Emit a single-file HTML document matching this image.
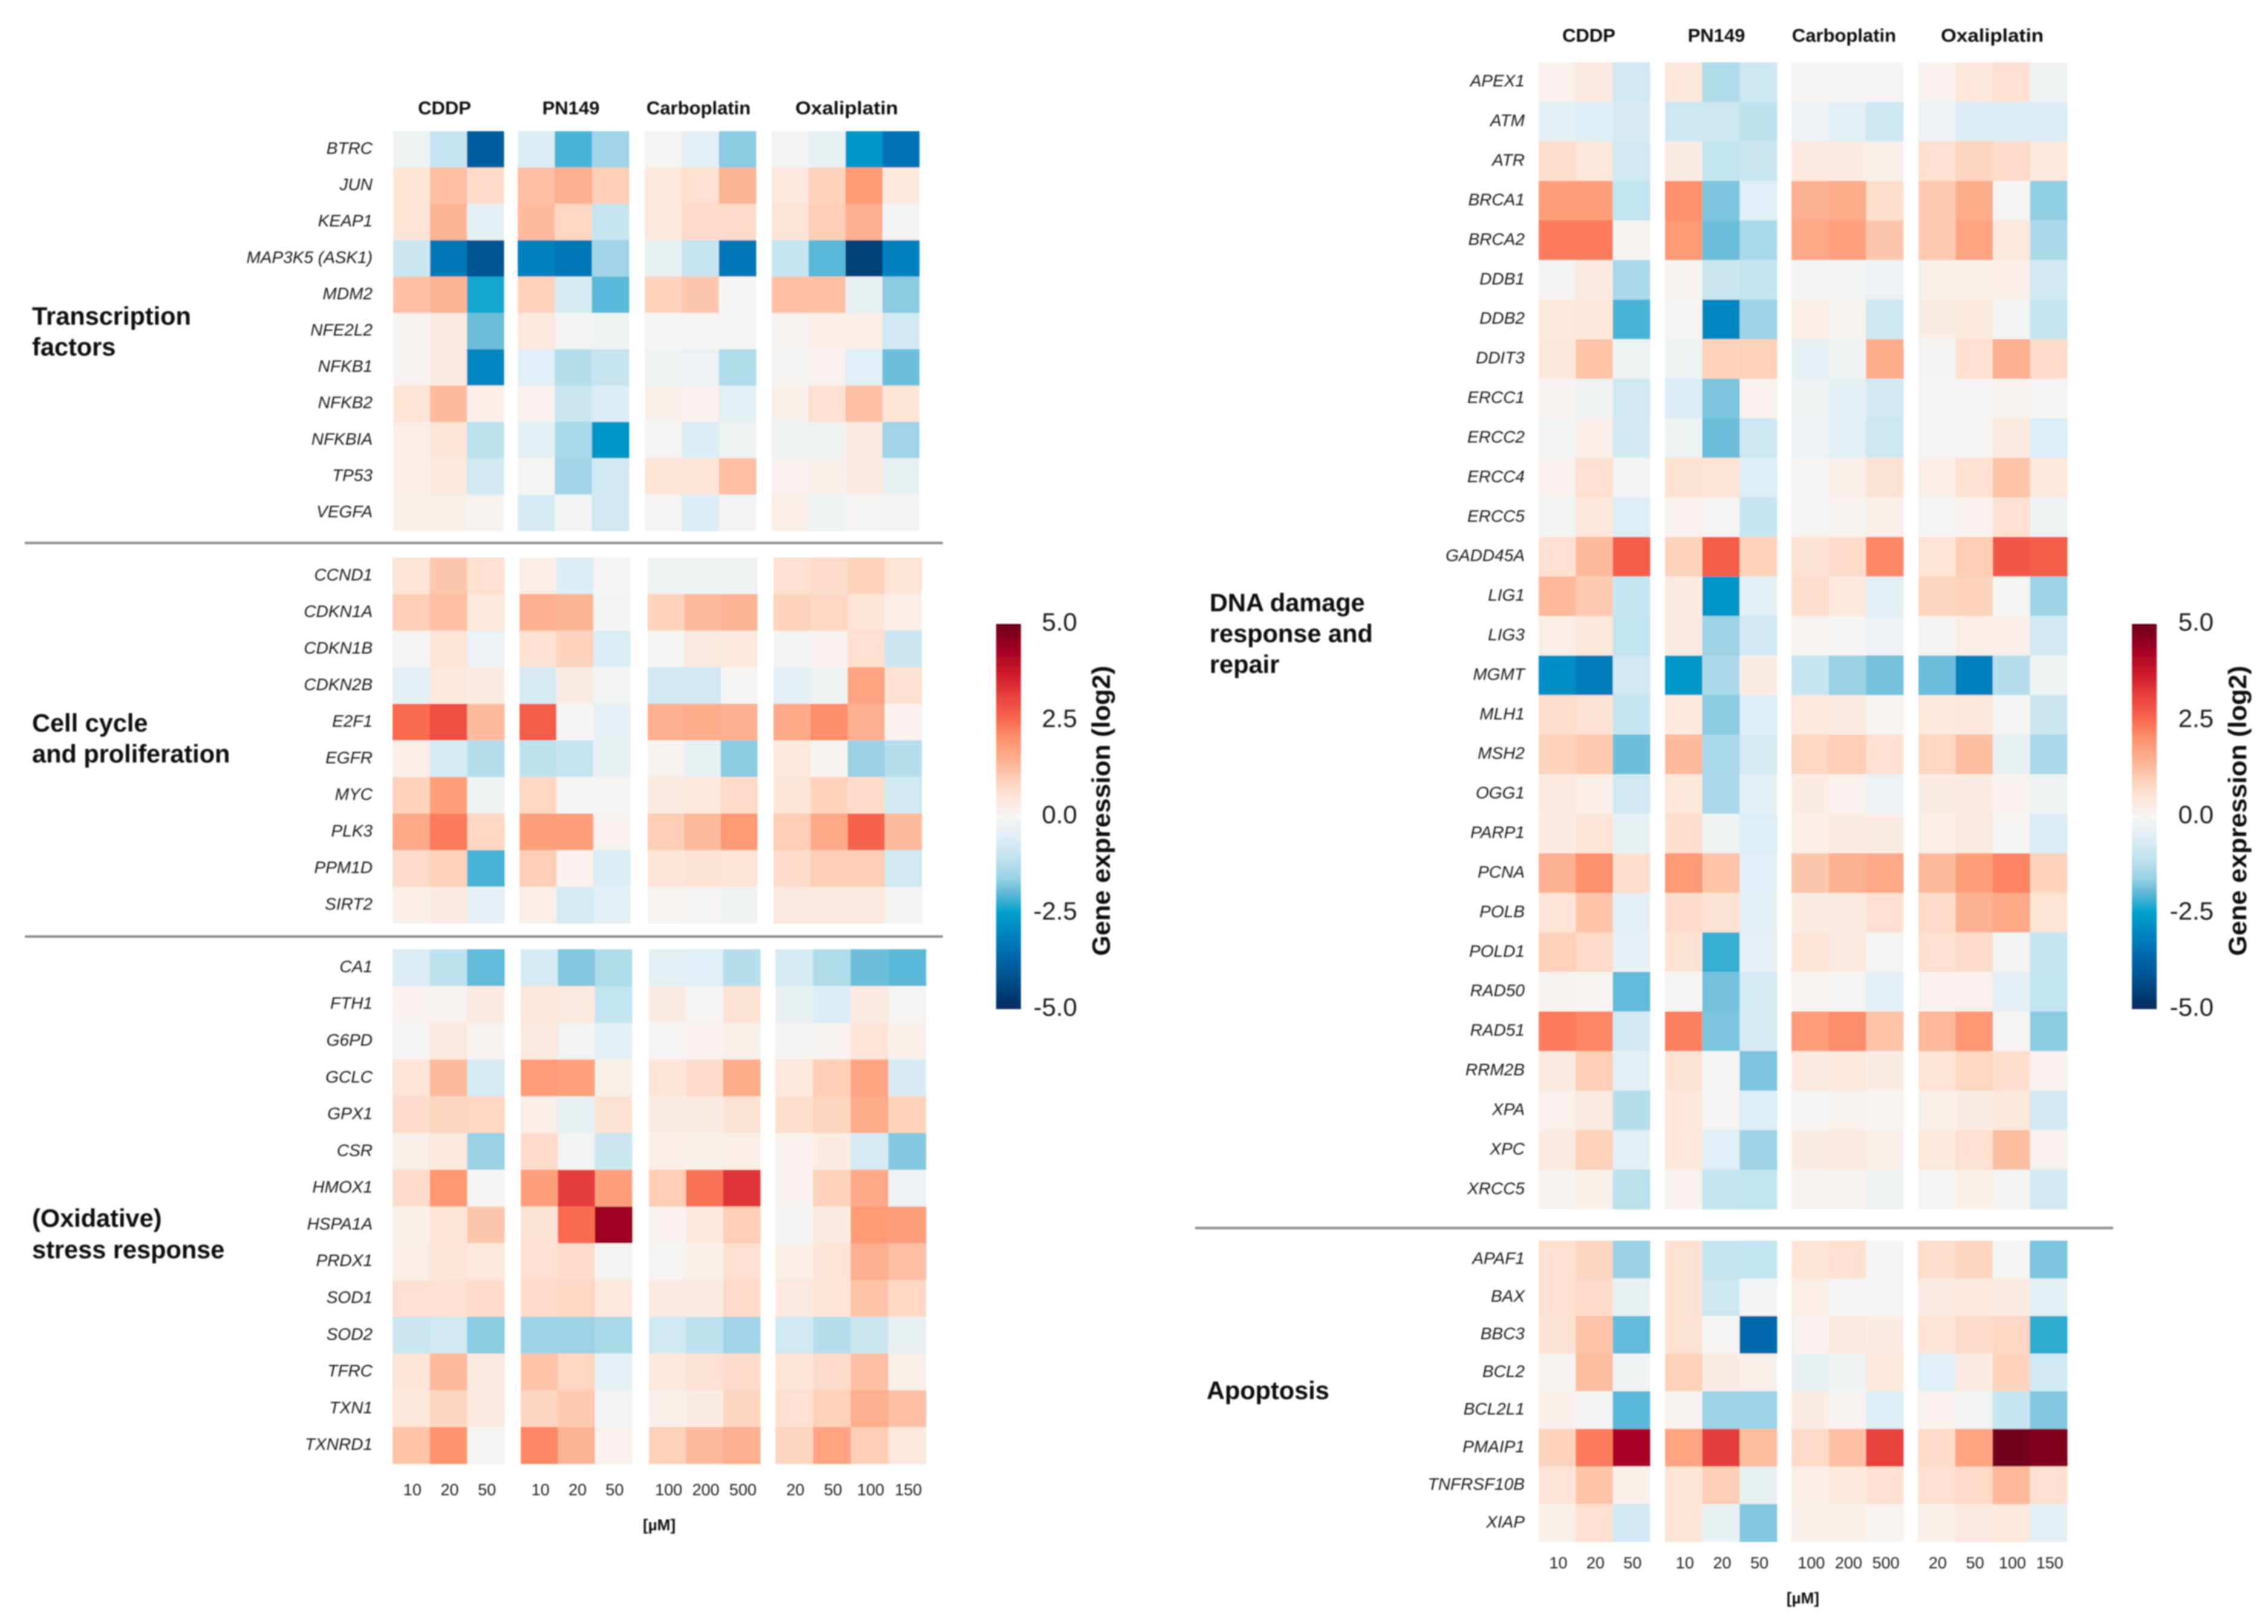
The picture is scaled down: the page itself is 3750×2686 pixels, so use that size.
<!DOCTYPE html>
<html lang="en">
<head>
<meta charset="utf-8">
<title>Gene expression heatmaps</title>
<style>
html,body{margin:0;padding:0;background:#fff;width:3750px;height:2686px;overflow:hidden}
svg{display:block;font-family:"Liberation Sans",sans-serif}
</style>
</head>
<body>
<svg id="figure" width="3750" height="2686" viewBox="0 0 3750 2686" xmlns="http://www.w3.org/2000/svg">
<defs>
<linearGradient id="cbar" x1="0" y1="0" x2="0" y2="1"></linearGradient>
<filter id="soft" x="0" y="0" width="100%" height="100%" filterUnits="userSpaceOnUse" primitiveUnits="userSpaceOnUse"><feGaussianBlur stdDeviation="1.1"/></filter>
</defs>
<rect width="3750" height="2686" fill="#fff"/>
<g id="root" filter="url(#soft)">
<g font-weight="bold" font-size="41.5" fill="#0a0a0a">
<text x="53" y="537">Transcription</text>
<text x="53" y="588">factors</text>
<text x="53" y="1210">Cell cycle</text>
<text x="53" y="1261">and proliferation</text>
<text x="53" y="2029">(Oxidative)</text>
<text x="53" y="2081">stress response</text>
<text x="2000" y="1011">DNA damage</text>
<text x="2000" y="1062">response and</text>
<text x="2000" y="1113">repair</text>
<text x="1995" y="2314">Apoptosis</text>
</g>
<rect x="41" y="896" width="1518" height="4" fill="#8a8a8a"/>
<rect x="41" y="1547" width="1518" height="4" fill="#8a8a8a"/>
<rect x="1976" y="2029" width="1518" height="4" fill="#8a8a8a"/>
<g fill="#111" font-weight="bold" font-size="31" text-anchor="middle">
<text x="735" y="189">CDDP</text>
<text x="944" y="189">PN149</text>
<text x="1155" y="189">Carboplatin</text>
<text x="1400" y="189" textLength="170" lengthAdjust="spacingAndGlyphs">Oxaliplatin</text>
<text x="2627" y="69">CDDP</text>
<text x="2838" y="69">PN149</text>
<text x="3049" y="69">Carboplatin</text>
<text x="3294" y="69" textLength="170" lengthAdjust="spacingAndGlyphs">Oxaliplatin</text>
<text x="1090" y="2531" font-size="26">[µM]</text>
<text x="2981" y="2652" font-size="26">[µM]</text>
</g>
<g id="heatmaps"></g>
<g id="legends"></g>
</g>
</svg>
<script>
// ---------- dose categories ----------
const cddpDoses = [10, 20, 50];
const pn149Doses = [10, 20, 50];
const carboplatinDoses = [100, 200, 500];
const oxaliplatinDoses = [20, 50, 100, 150];
const drugNames = ['cddp', 'pn149', 'carboplatin', 'oxaliplatin'];

// ---------- legend ----------
const legendTicks = [5, 2.5, 0, -2.5, -5];
const legendTickLabels = ['5.0', '2.5', '0.0', '-2.5', '-5.0'];
const colorValues = [5, 4.3, 3.7, 3.1, 2.5, 2, 1.4, 0.9, 0.45, 0, -0.5, -1.05, -1.6, -2, -2.5, -3, -3.55, -4.1, -4.6, -5];
const colorHexes = ['#6b0019', '#a50024', '#cf1a2c', '#e9433f', '#f96a50', '#fe9470', '#fdb495', '#fdd3bd', '#fde6da', '#f6f4f2', '#e0eef5', '#c2e3f0', '#9ad1e5', '#5cb8d8', '#00a0cc', '#0086c0', '#006bae', '#005594', '#003f78', '#0a2a5c'];

// ---------- transcription factors ----------
const tfGenes = ['BTRC', 'JUN', 'KEAP1', 'MAP3K5 (ASK1)', 'MDM2', 'NFE2L2', 'NFKB1', 'NFKB2', 'NFKBIA', 'TP53', 'VEGFA'];
const tfValues = [
[-.2,-1,-3.9,-.6,-2.1,-1.5,0,-.4,-1.7,-.1,-.3,-2.7,-3.4],
[.5,1.2,.7,1.2,1.5,1,.4,.6,1.4,.4,.9,1.9,.4],
[.5,1.4,-.4,1.3,.8,-1,.4,.7,.7,.5,1,1.5,-.1],
[-.9,-3.3,-4.1,-3.1,-3.3,-1.5,-.3,-1,-3.3,-1,-2,-4.6,-3.1],
[1.2,1.4,-2.4,.9,-.7,-2,.9,1.1,0,1.2,1.2,-.3,-1.7],
[.05,.3,-1.9,.4,-.1,-.2,0,0,0,.05,.2,.2,-.8],
[.05,.3,-3,-.5,-1.2,-1,-.15,-.25,-1.3,-.05,.1,-.5,-1.9],
[.5,1.3,.2,.1,-.9,-.6,.15,.1,-.4,.15,.6,1.2,.5],
[.2,.5,-1.1,-.4,-1.4,-2.7,0,-.6,-.2,-.15,-.15,.3,-1.5],
[.2,.4,-.8,0,-1.5,-.8,.5,.5,1.2,.1,.15,.3,-.3],
[.15,.15,.05,-.7,-.1,-.8,0,-.6,-.1,.2,-.2,0,-.05]
];

// ---------- cell cycle ----------
const cycleGenes = ['CCND1', 'CDKN1A', 'CDKN1B', 'CDKN2B', 'E2F1', 'EGFR', 'MYC', 'PLK3', 'PPM1D', 'SIRT2'];
const cycleValues = [
[.5,1.1,.6,.2,-.6,0,-.15,-.15,-.15,.6,.7,.9,.5],
[1,1.2,.4,1.5,1.4,-.1,.9,1.3,1.4,.9,.8,.5,.2],
[0,.5,-.25,.6,.9,-.6,0,.35,.4,-.1,.1,.6,-.9],
[-.4,.4,.3,-.7,.25,-.1,-.8,-.8,0,-.4,-.15,1.7,.6],
[2.5,2.9,1.3,2.7,0,-.35,1.5,1.55,1.5,1.6,2.1,1.5,.1],
[.2,-.7,-1.2,-1.1,-1,-.3,.05,-.3,-1.7,.4,.05,-1.6,-1.2],
[.9,1.8,-.2,.8,0,0,.35,.4,.75,.5,.9,.7,-.8],
[1.6,2.3,.8,1.8,1.8,.1,1,1.3,1.9,1,1.6,2.6,1.3],
[.7,.95,-2.1,1,.1,-.6,.5,.55,.5,.7,1,1,-.8],
[.2,.3,-.35,.2,-.7,-.45,.03,0,-.15,.35,.35,.35,-.1]
];

// ---------- oxidative stress ----------
const stressGenes = ['CA1', 'FTH1', 'G6PD', 'GCLC', 'GPX1', 'CSR', 'HMOX1', 'HSPA1A', 'PRDX1', 'SOD1', 'SOD2', 'TFRC', 'TXN1', 'TXNRD1'];
const stressValues = [
[-.6,-1.1,-1.95,-.7,-1.75,-1.3,-.4,-.5,-1.2,-.7,-1.3,-1.9,-2],
[.1,.08,.3,.45,.35,-1.05,.25,0,.55,-.3,-.6,.3,0],
[0,.35,.05,.35,-.1,-.45,0,.1,.15,-.05,.05,.5,.15],
[.5,1.3,-.7,1.85,1.75,.15,.5,.7,1.55,.4,1,1.7,-.65],
[.7,.85,.8,.2,-.3,.55,.25,.25,.55,.65,.85,1.55,.9],
[.15,.4,-1.6,.7,-.1,-.9,.2,.15,.2,.1,.3,-.7,-1.75],
[.7,1.95,0,1.8,3.2,1.8,1,2.4,3.3,.1,.9,1.6,-.25],
[.15,.5,1.1,.55,2.5,4.4,.1,.4,1,-.05,.3,1.9,1.8],
[.2,.5,.4,.6,.7,-.05,0,.15,.6,.2,.5,1.5,1.2],
[.6,.6,.7,.75,.8,.4,.35,.3,.75,.35,.5,1.15,.8],
[-.9,-.8,-1.7,-1.55,-1.55,-1.4,-.8,-1.1,-1.5,-.8,-1.2,-.9,-.3],
[.5,1.3,.35,1.15,.8,-.35,.4,.55,.7,.5,.7,1.2,.15],
[.45,.85,.35,.85,1.05,-.1,.15,.25,.85,.6,.95,1.5,1.2],
[1.15,2,0,2.15,1.4,.1,.95,1.3,1.5,.85,1.7,1,.4]
];

// ---------- DNA damage response and repair ----------
const dnaGenes = ['APEX1', 'ATM', 'ATR', 'BRCA1', 'BRCA2', 'DDB1', 'DDB2', 'DDIT3', 'ERCC1', 'ERCC2', 'ERCC4', 'ERCC5', 'GADD45A', 'LIG1', 'LIG3', 'MGMT', 'MLH1', 'MSH2', 'OGG1', 'PARP1', 'PCNA', 'POLB', 'POLD1', 'RAD50', 'RAD51', 'RRM2B', 'XPA', 'XPC', 'XRCC5'];
const dnaValues = [
[.1,.35,-.8,.45,-1.3,-.85,0,0,0,.1,.45,.6,-.15],
[-.4,-.55,-.65,-.85,-.85,-1.1,-.25,-.45,-.85,-.25,-.6,-.6,-.6],
[.65,.45,-.8,.25,-1.05,-.9,.35,.3,.15,.6,.85,.7,.4],
[1.8,1.8,-1.05,2.05,-1.8,-.5,1.45,1.55,.65,1.05,1.55,0,-1.65],
[2.3,2.3,.05,1.9,-1.9,-1.4,1.6,1.75,1.1,1.05,1.7,.4,-1.35],
[-.05,.35,-1.35,.05,-.9,-1,-.05,-.1,-.25,.15,.15,.2,-.8],
[.4,.45,-2.1,-.02,-3,-1.55,.2,.08,-.85,.25,.4,-.1,-1],
[.45,1.15,-.2,-.2,.9,.95,-.35,-.15,1.55,-.05,.6,1.5,.7],
[.05,-.15,-.8,-.6,-1.8,.1,-.2,-.4,-.8,0,0,.05,-.02],
[-.1,.2,-.75,-.15,-1.9,-.85,-.25,-.4,-.85,0,0,.35,-.55],
[.1,.6,-.1,.55,.5,-.55,0,.15,.55,.2,.55,1.15,.4],
[-.1,.45,-.55,.1,0,-.95,-.03,.08,.15,-.03,.1,.6,-.2],
[.6,1.3,2.7,.9,2.7,.9,.55,.7,2.15,.5,1,2.8,2.7],
[1.35,1.05,-.95,.3,-2.7,-.45,.65,.4,-.4,.85,.9,-.03,-1.55],
[.2,.45,-1.05,.3,-1.55,-.8,.02,-.03,-.25,-.05,.2,.2,-.75],
[-2.85,-3.2,-.8,-2.65,-1.35,.25,-.95,-1.6,-1.85,-1.9,-3.1,-1.2,-.2],
[.65,.55,-1,.4,-1.7,-.55,.4,.3,.02,.4,.45,-.03,-.9],
[.9,1.05,-1.9,1.3,-1.4,-.7,.8,1,.6,.8,1.25,-.3,-1.35],
[.35,.2,-.8,.45,-1.35,-.4,.25,.1,-.25,.25,.3,.1,-.15],
[.3,.5,-.3,.65,-.2,-.55,.2,.3,.25,.2,.35,-.02,-.6],
[1.45,2.05,.65,1.9,1.15,-.5,1.1,1.45,1.6,1.3,1.8,2.2,.9],
[.5,1.15,-.4,.7,.55,-.4,.3,.35,.6,.75,1.45,1.6,.5],
[.95,.75,-.35,.55,-2.2,-.35,.5,.35,-.03,.6,.7,-.08,-.95],
[.05,.03,-1.95,-.02,-1.85,-.7,.02,-.02,-.45,.12,.12,-.4,-1.05],
[2.3,2.15,-.75,2.25,-1.8,-.7,1.85,2.1,1.15,1.35,1.95,-.03,-1.7],
[.35,1,-.45,.55,-.02,-1.8,.35,.4,.25,.5,.8,.65,.12],
[.1,.35,-1.2,.45,-.02,-.55,-.03,.08,.03,.15,.25,.45,-.75],
[.35,.95,-.45,.45,-.5,-1.55,.25,.35,.15,.4,.6,1.25,.12],
[.08,.15,-1.15,.1,-1,-1.05,.05,.05,-.2,0,.15,-.05,-.8]
];

// ---------- apoptosis ----------
const apoptosisGenes = ['APAF1', 'BAX', 'BBC3', 'BCL2', 'BCL2L1', 'PMAIP1', 'TNFRSF10B', 'XIAP'];
const apoptosisValues = [
[.6,.85,-1.6,.55,-1,-1.05,.5,.6,0,.65,.85,-.03,-1.8],
[.6,.7,-.3,.55,-.85,-.1,.2,0,-.03,.3,.4,.3,-.4],
[.55,1.15,-1.95,.55,-.03,-3.6,.12,.35,.3,.5,.7,.8,-2.25],
[.05,1.25,-.15,.95,.25,.15,-.3,-.2,.4,-.5,.3,.9,-.8],
[.15,-.1,-2,.05,-1.55,-1.55,.25,.05,-.55,.12,-.1,-.95,-1.75],
[.9,2.3,4.25,1.7,3.2,1.25,.75,1.2,3.15,.7,1.7,4.9,4.75],
[.5,1.15,.15,.5,1,-.3,.2,.4,.6,.6,.75,1.35,.6],
[.15,.6,-.75,.5,-.3,-1.75,.15,.15,.02,.15,.35,.4,-.4]
];

// ---------- layout (separate from the data) ----------
const doseGroups = [cddpDoses, pn149Doses, carboplatinDoses, oxaliplatinDoses];
const heatmapLayouts = [
  {id:'transcription-factors', genes:tfGenes, values:tfValues, spans:[[650,833],[856,1040],[1066,1250],[1276,1520]], top:217, bottom:878, labelRight:616, tickBaseline:null},
  {id:'cell-cycle', genes:cycleGenes, values:cycleValues, spans:[[649,834],[859,1042],[1071,1252],[1279,1524]], top:922, bottom:1527, labelRight:616, tickBaseline:null},
  {id:'oxidative-stress', genes:stressGenes, values:stressValues, spans:[[649,834],[861,1045],[1073,1257],[1282,1531]], top:1570, bottom:2421, labelRight:616, tickBaseline:2473},
  {id:'dna-damage', genes:dnaGenes, values:dnaValues, spans:[[2544,2728],[2753,2938],[2962,3147],[3172,3418]], top:103, bottom:2000, labelRight:2521, tickBaseline:null},
  {id:'apoptosis', genes:apoptosisGenes, values:apoptosisValues, spans:[[2544,2728],[2753,2938],[2962,3147],[3171,3418]], top:2052, bottom:2550, labelRight:2521, tickBaseline:2594}
];
const legendLayouts = [
  {id:'left', barX:1647, barW:41, top:1032, bottom:1669, labelRight:1781, titleX:1835},
  {id:'right', barX:3525, barW:41, top:1032, bottom:1669, labelRight:3660, titleX:3714}
];

const NS = 'http://www.w3.org/2000/svg';
function mk(tag, attrs, parent) {
  const el = document.createElementNS(NS, tag);
  for (const k in attrs) el.setAttribute(k, attrs[k]);
  parent.appendChild(el);
  return el;
}
function hexRgb(h) {
  return [parseInt(h.slice(1,3),16), parseInt(h.slice(3,5),16), parseInt(h.slice(5,7),16)];
}
function colorScale(v) {
  const c = Math.max(-5, Math.min(5, v));
  for (let i = 0; i < colorValues.length - 1; i++) {
    if (c <= colorValues[i] && c >= colorValues[i+1]) {
      const t = (colorValues[i] - c) / (colorValues[i] - colorValues[i+1]);
      const a = hexRgb(colorHexes[i]), b = hexRgb(colorHexes[i+1]);
      return 'rgb(' + a.map((x, j) => Math.round(x + (b[j] - x) * t)).join(',') + ')';
    }
  }
  return colorHexes[colorHexes.length - 1];
}
function xScale(span, n, col) {
  return span[0] + (span[1] - span[0]) * col / n;
}
function yScale(top, bottom, n, row) {
  return top + (bottom - top) * row / n;
}
function slug(s) {
  return s.toLowerCase().replace(/[^a-z0-9]+/g, '-').replace(/-$/, '');
}

const heatRoot = document.getElementById('heatmaps');
heatmapLayouts.forEach(function (h) {
  const g = mk('g', {}, heatRoot);
  
  
  const nRows = h.genes.length;
  h.genes.forEach(function (gene, r) {
    const y0 = yScale(h.top, h.bottom, nRows, r);
    const y1 = yScale(h.top, h.bottom, nRows, r + 1);
    const label = mk('text', {x: h.labelRight, y: (y0 + y1) / 2 + 7.5, 'text-anchor': 'end', 'font-style': 'italic', 'font-size': 28, fill: '#1a1a1a'}, g);
    label.textContent = gene;
    
    
    let idx = 0;
    doseGroups.forEach(function (doses, d) {
      doses.forEach(function (dose, c) {
        const x0 = xScale(h.spans[d], doses.length, c);
        const x1 = xScale(h.spans[d], doses.length, c + 1);
        const cell = mk('rect', {x: x0, y: y0, width: x1 - x0 + 0.4, height: y1 - y0 + 0.4, fill: colorScale(h.values[r][idx])}, g);
        
        
        idx++;
      });
    });
  });
  if (h.tickBaseline !== null) {
    doseGroups.forEach(function (doses, d) {
      doses.forEach(function (dose, c) {
        const cx = (xScale(h.spans[d], doses.length, c) + xScale(h.spans[d], doses.length, c + 1)) / 2;
        const tick = mk('text', {x: cx + 2, y: h.tickBaseline, 'text-anchor': 'middle', 'font-size': 27, fill: '#222'}, g);
        tick.textContent = String(dose);
        
        
      });
    });
  }
});

// colorbar gradient built from the colour scale
const grad = document.getElementById('cbar');
colorValues.forEach(function (v, i) {
  mk('stop', {offset: (5 - v) / 10, 'stop-color': colorHexes[i]}, grad);
});

const legendRoot = document.getElementById('legends');
legendLayouts.forEach(function (l) {
  const g = mk('g', {}, legendRoot);
  
  
  const legendY = function (v) { return l.top + (l.bottom - l.top) * (5 - v) / 10; };
  const bar = mk('rect', {x: l.barX, y: l.top, width: l.barW, height: l.bottom - l.top, fill: 'url(#cbar)'}, g);
  
  
  legendTicks.forEach(function (v, i) {
    const y = legendY(v);
    const lab = mk('text', {x: l.labelRight, y: y + 11, 'text-anchor': 'end', 'font-size': 42, fill: '#1a1a1a'}, g);
    lab.textContent = legendTickLabels[i];
    
    
    if (v === 0) {
      const tl = mk('rect', {x: l.barX, y: y - 1, width: 9, height: 2, fill: '#fff'}, g);
      
      
      const tr = mk('rect', {x: l.barX + l.barW - 9, y: y - 1, width: 9, height: 2, fill: '#fff'}, g);
      
      
    }
  });
  const midY = (1101 + 1581) / 2;
  const title = mk('text', {x: 0, y: 0, transform: 'translate(' + l.titleX + ',' + midY + ') rotate(-90)', 'text-anchor': 'middle', 'font-size': 42, 'font-weight': 'bold', fill: '#111', textLength: 480, lengthAdjust: 'spacingAndGlyphs'}, g);
  title.textContent = 'Gene expression (log2)';
  
  
});
</script>
</body>
</html>
